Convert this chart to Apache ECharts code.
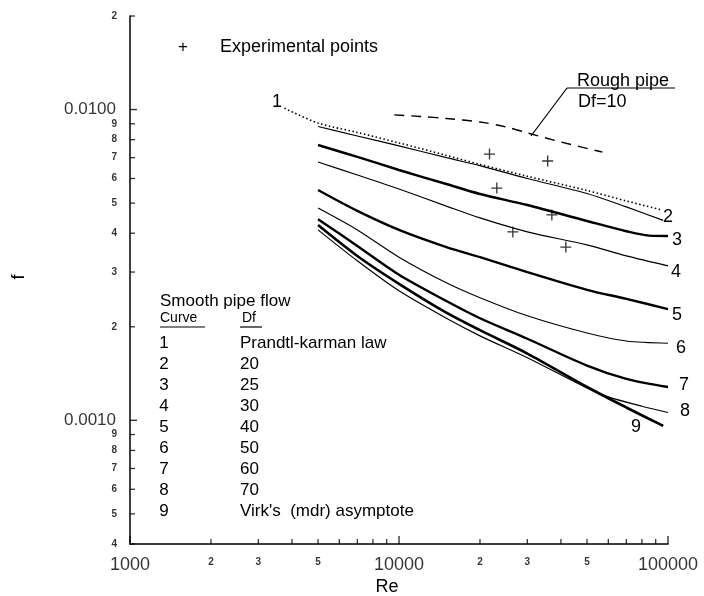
<!DOCTYPE html>
<html><head><meta charset="utf-8">
<script src="https://cdn.jsdelivr.net/npm/echarts@6/dist/echarts.min.js"></script>
<style>html,body{margin:0;padding:0;background:#fff}#c{width:704px;height:596px}</style>
</head><body><div id="c"></div>
<script>
// ---------------- data ----------------
const reGrid = [5000, 7000, 10000, 15000, 20000, 30000, 50000, 70000, 100000];

const curve1Re = [3750, 5000, 7000, 10000, 15000, 20000, 30000, 50000, 70000, 95000];
const curve1F  = [0.0101, 0.00905, 0.00844, 0.00781, 0.00712, 0.00666, 0.00610, 0.00549, 0.00508, 0.00475];

const curve2Re = [5000, 7000, 10000, 15000, 20000, 30000, 50000, 70000, 96000];
const curve2F  = [0.00882, 0.00822, 0.00764, 0.00700, 0.00660, 0.00600, 0.00537, 0.00486, 0.00440];

const curve3Re = [5000, 7000, 10000, 15000, 20000, 30000, 50000, 70000, 85000, 100000];
const curve3F  = [0.00769, 0.00704, 0.00639, 0.00576, 0.00535, 0.00493, 0.00438, 0.00406, 0.00393, 0.00392];

const curve4F  = [0.00678, 0.00616, 0.00555, 0.00489, 0.00448, 0.00404, 0.00367, 0.00338, 0.00314];
const curve5F  = [0.00551, 0.00472, 0.00410, 0.00361, 0.00335, 0.00300, 0.00263, 0.00246, 0.00228];
const curve6F  = [0.00482, 0.00410, 0.00335, 0.00277, 0.00248, 0.00217, 0.00191, 0.00180, 0.00177];
const curve7F  = [0.00444, 0.00364, 0.00294, 0.00242, 0.00213, 0.00183, 0.00150, 0.00136, 0.00128];

const curve8Re = [5000, 7000, 10000, 15000, 20000, 30000, 50000, 60000, 80000, 100000];
const curve8F  = [0.00410, 0.00326, 0.00261, 0.00213, 0.00187, 0.00159, 0.00127, 0.00119, 0.00111, 0.00106];

const curve9Re = [5000, 7000, 10000, 15000, 20000, 30000, 50000, 70000, 96000];
const curve9F  = [0.00425, 0.00338, 0.00275, 0.00222, 0.00195, 0.00164, 0.00128, 0.00110, 0.00096];

const roughRe = [9600, 12000, 15000, 20000, 25000, 30000, 40000, 57000];
const roughF  = [0.00961, 0.00950, 0.00936, 0.00912, 0.00879, 0.00841, 0.00786, 0.00730];

const expRe = [21700, 35700, 23100, 37000, 26500, 41700];
const expF  = [0.00719, 0.00683, 0.00559, 0.00458, 0.00404, 0.00361];

const yTickValues = [0.02, 0.01, 0.009, 0.008, 0.007, 0.006, 0.005, 0.004, 0.003, 0.002,
                     0.001, 0.0009, 0.0008, 0.0007, 0.0006, 0.0005, 0.0004];
const yTickLabels = ['2', '0.0100', '9', '8', '7', '6', '5', '4', '3', '2',
                     '0.0010', '9', '8', '7', '6', '5', '4'];
const xTickValues = [1000, 2000, 3000, 4000, 5000, 6000, 7000, 8000, 9000,
                     10000, 20000, 30000, 40000, 50000, 60000, 70000, 80000, 90000, 100000];
const xTickLabels = ['1000', '2', '3', '', '5', '', '', '', '',
                     '10000', '2', '3', '', '5', '', '', '', '', '100000'];

const curveNames = ['1', '2', '3', '4', '5', '6', '7', '8', '9'];
const tableDf = ['Prandtl-karman law', '20', '25', '30', '40', '50', '60', '70', "Virk's  (mdr) asymptote"];

// ---------------- build ----------------
const X_MIN = 1000, X_MAX = 100000, Y_MIN = 0.0004, Y_MAX = 0.02;
const C = '#000';
const FF = '"Liberation Sans", Arial, sans-serif';
const zip = (a, b) => a.map((v, i) => [v, b[i]]);

function curve(re, f, width, type, z) {
  return {
    type: 'line', data: zip(re, f), symbol: 'none', showSymbol: false,
    smooth: 0.3, silent: true, z: z || 3,
    lineStyle: { color: C, width: width, type: type || 'solid' }
  };
}

const isMajorY = s => s.indexOf('0.0') === 0;
const isMajorX = s => s.length >= 4;

const yTickSeries = {
  type: 'scatter', clip: false, silent: true, z: 5, symbol: 'rect',
  itemStyle: { color: C },
  label: { show: true, position: 'left', color: C, fontFamily: FF },
  data: yTickValues.map((v, i) => {
    const lab = yTickLabels[i], maj = isMajorY(lab);
    return {
      value: [X_MIN, v],
      symbolSize: maj ? [7, 1.4] : [5, 1.3],
      symbolOffset: maj ? [3.5, 0] : [2.5, 0],
      label: { formatter: lab, fontSize: maj ? 17 : 10, fontWeight: maj ? 'normal' : 'bold', distance: maj ? 14 : 13 }
    };
  })
};

const xTickSeries = {
  type: 'scatter', clip: false, silent: true, z: 5, symbol: 'rect',
  itemStyle: { color: C },
  label: { show: true, position: 'bottom', color: C, fontFamily: FF },
  data: xTickValues.map((v, i) => {
    const lab = xTickLabels[i], maj = isMajorX(lab);
    return {
      value: [v, Y_MIN],
      symbolSize: maj ? [1.4, 8] : [1.3, 5],
      symbolOffset: maj ? [0, -4] : [0, -2.5],
      label: { formatter: lab, fontSize: maj ? 18 : 10, fontWeight: maj ? 'normal' : 'bold', distance: maj ? 12 : 13 }
    };
  })
};

const series = [
  curve(curve1Re, curve1F, 1.6, [1.5, 2.5], 4),
  curve(curve2Re, curve2F, 1.2),
  curve(curve3Re, curve3F, 2.4),
  curve(reGrid, curve4F, 1.2),
  curve(reGrid, curve5F, 2.4),
  curve(reGrid, curve6F, 1.2),
  curve(reGrid, curve7F, 2.4),
  curve(curve8Re, curve8F, 1.2),
  curve(curve9Re, curve9F, 2.6),
  curve(roughRe, roughF, 1.4, [10, 7]),
  {
    type: 'scatter', silent: true, z: 6,
    symbol: 'path://M4.4,0H5.6V4.4H10V5.6H5.6V10H4.4V5.6H0V4.4H4.4Z',
    symbolSize: 11, itemStyle: { color: C },
    data: zip(expRe, expF)
  },
  yTickSeries,
  xTickSeries
];

// annotation text
const txt = (x, y, s, size, extra) => ({
  type: 'text', x: x, y: y, silent: true,
  style: Object.assign({ text: s, fill: C, font: (size || 18) + 'px ' + FF, textVerticalAlign: 'middle' }, extra || {})
});
const line = (x1, y1, x2, y2, w) => ({
  type: 'line', silent: true,
  shape: { x1: x1, y1: y1, x2: x2, y2: y2 }, style: { stroke: C, lineWidth: w || 1.2 }
});

const curveLabelPos = [[277, 102], [668, 217], [677, 240], [676, 272], [677, 315], [681, 348], [684, 385], [685, 411], [636, 427]];
const graphics = [];
curveNames.forEach((n, i) => graphics.push(txt(curveLabelPos[i][0], curveLabelPos[i][1], n, 18, { textAlign: 'center' })));

// legend for experimental points
graphics.push(txt(183, 47, '+', 17, { textAlign: 'center' }));
graphics.push(txt(220, 47, 'Experimental points', 18));

// rough pipe annotation
graphics.push(txt(577, 81, 'Rough pipe', 18));
graphics.push(txt(578, 102, 'Df=10', 18));
graphics.push(line(567, 88, 675, 88, 1.2));
graphics.push(line(567, 88, 531, 136, 1.2));

// smooth-pipe table
graphics.push(txt(160, 301, 'Smooth pipe flow', 17));
graphics.push(txt(160, 318, 'Curve', 14));
graphics.push(txt(242, 318, 'Df', 14));
graphics.push(line(160, 327, 205, 327, 1.2));
graphics.push(line(240, 327, 262, 327, 1.2));
curveNames.forEach((n, i) => {
  const y = 343 + i * 21;
  graphics.push(txt(164, y, n, 17, { textAlign: 'center' }));
  graphics.push(txt(240, y, tableDf[i], 17));
});

// axis titles
graphics.push(txt(387, 587, 'Re', 18, { textAlign: 'center' }));
graphics.push({
  type: 'text', x: 19, y: 277, rotation: Math.PI / 2, silent: true,
  style: { text: 'f', fill: C, font: '18px ' + FF, textAlign: 'center', textVerticalAlign: 'middle' }
});

const chart = echarts.init(document.getElementById('c'), null, { renderer: 'canvas' });
chart.setOption({
  backgroundColor: '#fff',
  animation: false,
  grid: { left: 130, top: 16, width: 538, height: 528, containLabel: false },
  xAxis: {
    type: 'log', logBase: 10, min: X_MIN, max: X_MAX,
    axisLine: { show: true, onZero: false, lineStyle: { color: C, width: 1.5 } },
    axisTick: { show: false }, axisLabel: { show: false }, splitLine: { show: false }
  },
  yAxis: {
    type: 'log', logBase: 10, min: Y_MIN, max: Y_MAX,
    axisLine: { show: true, onZero: false, lineStyle: { color: C, width: 1.5 } },
    axisTick: { show: false }, axisLabel: { show: false }, splitLine: { show: false }
  },
  series: series,
  graphic: graphics
});
</script></body></html>
